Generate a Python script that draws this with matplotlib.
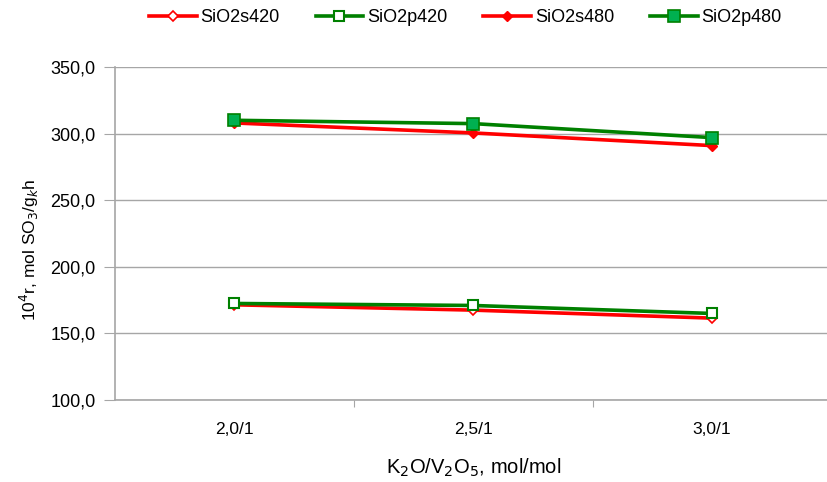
import matplotlib.pyplot as plt
from matplotlib.ticker import FuncFormatter

plt.rcParams['font.family'] = ['Liberation Sans', 'DejaVu Sans']

# K2O/V2O5 ratios and reaction rates for each catalyst series
ratios = ["2,0/1", "2,5/1", "3,0/1"]
sio2s420 = [171.5, 167.5, 161.5]
sio2p420 = [172.5, 171.0, 165.0]
sio2s480 = [308.0, 300.5, 291.0]
sio2p480 = [310.0, 307.5, 297.0]

red = "#FF0000"
green = "#008000"
grid_col = "#A6A6A6"

fig = plt.figure(figsize=(8.28, 4.82), dpi=100)
ax = fig.add_axes([0.139, 0.170, 0.865, 0.691])

x = list(range(len(ratios)))
ax.plot(x, sio2s420, color=red, lw=2.6, marker="D", ms=5.5, mfc="white", mec=red, mew=1.2, label="SiO2s420", zorder=3)
ax.plot(x, sio2p420, color=green, lw=2.6, marker="s", ms=7.5, mfc="white", mec=green, mew=1.5, label="SiO2p420", zorder=4)
ax.plot(x, sio2s480, color=red, lw=2.6, marker="D", ms=5.5, mfc=red, mec=red, label="SiO2s480", zorder=3)
ax.plot(x, sio2p480, color=green, lw=2.6, marker="s", ms=8, mfc="#00B050", mec=green, mew=1.2, label="SiO2p480", zorder=4)

ax.set_xlim(-0.5, 2.5)
ax.set_ylim(100, 350)
ax.set_yticks(range(100, 351, 50))
ax.yaxis.set_major_formatter(FuncFormatter(lambda v, p: f"{v:.1f}".replace(".", ",")))
ax.set_xticks([0.5, 1.5])
ax.set_xticklabels([])
ax.set_xticks(x, minor=True)
ax.set_xticklabels(ratios, minor=True)
ax.tick_params(axis="x", which="minor", length=0, pad=16, labelsize=12.5)
ax.tick_params(axis="x", which="major", length=5, color=grid_col, direction="out")
ax.tick_params(axis="y", length=8, color=grid_col, labelsize=13, pad=6)

ax.grid(axis="y", color=grid_col, lw=1)
ax.set_axisbelow(True)
for side in ["top", "right"]:
    ax.spines[side].set_visible(False)
for side in ["left", "bottom"]:
    ax.spines[side].set_color(grid_col)
    ax.spines[side].set_linewidth(1.2)

ax.set_ylabel(r"10$^4$r, mol SO$_3$/g$_k$h", fontsize=12.5)
ax.yaxis.set_label_coords(-0.103, 0.45)
ax.set_xlabel(r"K$_2$O/V$_2$O$_5$, mol/mol", fontsize=14.5, labelpad=14)

fig.legend(loc="upper center", bbox_to_anchor=(0.562, 1.015), ncol=4, frameon=False,
           fontsize=13, handlelength=2.65, columnspacing=2.0, handletextpad=0.2)

fig.savefig("out.png", dpi=100)
